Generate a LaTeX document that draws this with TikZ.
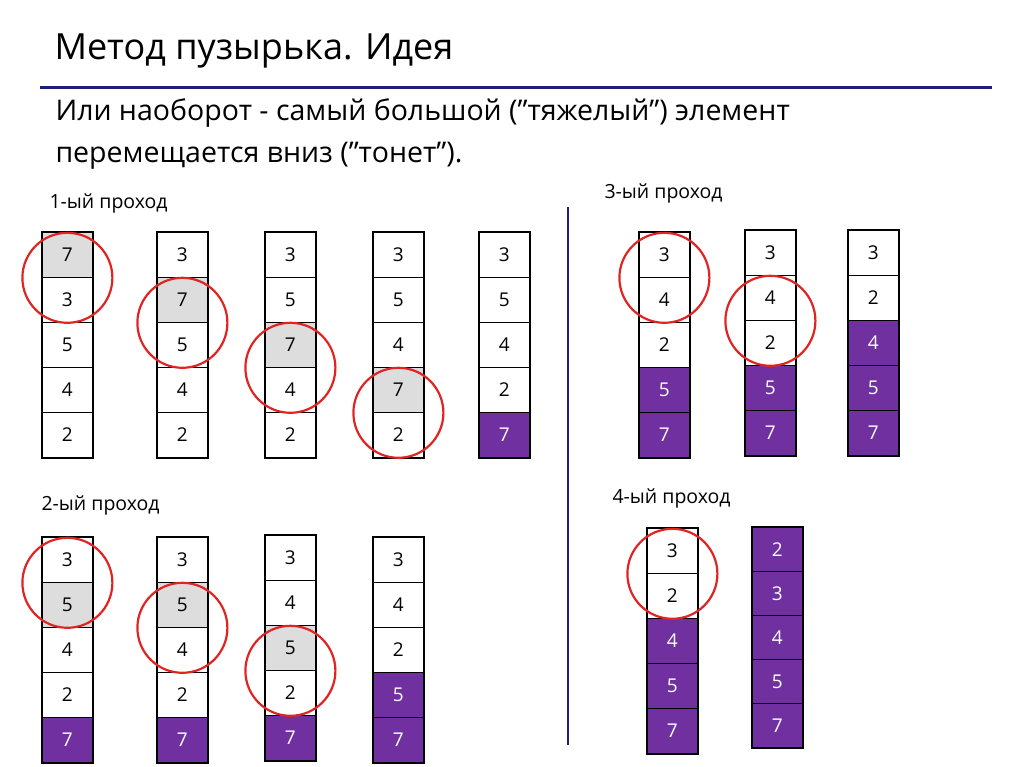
\documentclass[tikz,border=0pt]{standalone}
\usepackage{fontspec}
\setmainfont{Open Sans}
\definecolor{navy}{HTML}{1F1F7A}
\definecolor{bubblepurple}{HTML}{7030A0}
\definecolor{bubblegray}{HTML}{DDDDDD}
\definecolor{ringred}{HTML}{E02424}
\newcommand\qt{\symbol{34}}
\tikzset{
  cell/.style = {draw, line width=0.8pt, minimum width=50pt, minimum height=45pt,
                 inner sep=0pt, font=\fontsize{19}{19}\selectfont, anchor=north west},
  graycell/.style = {cell, fill=bubblegray},
  purplecell/.style = {cell, fill=bubblepurple, text=white},
  ring/.style = {draw=ringred, line width=2.2pt},
  passlabel/.style = {anchor=west, font=\fontsize{19.5}{19.5}\selectfont}
}
% name, x, top y, cell height, values, gray row, first purple row
\newcommand\bubblecol[7]{
  \foreach \v [count=\i] in {#5} {
    \ifnum\i=#6 \def\st{graycell}\else
      \ifnum\i<#7 \def\st{cell}\else \def\st{purplecell}\fi\fi
    \node[\st, minimum height=#4pt] (#1-\i) at (#2, {#3+(\i-1)*#4}) {\v};
  }
  \draw[line width=2.4pt] (#1-1.north west) rectangle (#1-5.south east);
}
\begin{document}
\begin{tikzpicture}[x=1pt, y=-1pt]
  \useasboundingbox (0,0) rectangle (1024,767);
  \node[anchor=west, font=\fontsize{36}{36}\selectfont] (title) at (51,51) {Метод пузырька. Идея};
  \draw[navy, line width=3pt] (40,88) -- (992,88);
  \node[anchor=west, font=\fontsize{28.5}{42}\selectfont, align=left] (idea) at (52,134)
    {Или наоборот - самый большой (\qt тяжелый\qt) элемент\\перемещается вниз (\qt тонет\qt).};
  \draw[navy, line width=2.5pt] (568,207) -- (568,745);

  % 1-ый проход
  \node[passlabel] (l1) at (46,203) {1-ый проход};
  \bubblecol{a}{42}{232}{45}{7,3,5,4,2}{1}{9}
  \bubblecol{b}{157}{232}{45}{3,7,5,4,2}{2}{9}
  \bubblecol{c}{265}{232}{45}{3,5,7,4,2}{3}{9}
  \bubblecol{d}{373}{232}{45}{3,5,4,7,2}{4}{9}
  \bubblecol{e}{479}{232}{45}{3,5,4,2,7}{0}{5}
  \draw[ring] (a-1.south) circle (45);
  \draw[ring] (b-2.south) circle (45);
  \draw[ring] (c-3.south) circle (45);
  \draw[ring] (d-4.south) circle (45);

  % 2-ой проход
  \node[passlabel] (l2) at (38,505) {2-ый проход};
  \bubblecol{f}{42}{537}{45}{3,5,4,2,7}{2}{5}
  \bubblecol{g}{157}{537}{45}{3,5,4,2,7}{2}{5}
  \bubblecol{h}{265}{535}{45}{3,4,5,2,7}{3}{5}
  \bubblecol{i}{373}{537}{45}{3,4,2,5,7}{0}{4}
  \draw[ring] (f-1.south) circle (45);
  \draw[ring] (g-2.south) circle (45);
  \draw[ring] (h-3.south) circle (45);

  % 3-ий проход
  \node[passlabel] (l3) at (601,193) {3-ый проход};
  \bubblecol{j}{639}{232}{45}{3,4,2,5,7}{0}{4}
  \bubblecol{k}{745}{230}{45}{3,4,2,5,7}{0}{4}
  \bubblecol{m}{848}{230}{45}{3,2,4,5,7}{0}{3}
  \draw[ring] (j-1.south) circle (45);
  \draw[ring] (k-2.south) circle (45);

  % 4-ый проход
  \node[passlabel] (l4) at (609,498) {4-ый проход};
  \bubblecol{n}{647}{528}{45}{3,2,4,5,7}{0}{3}
  \bubblecol{o}{752}{527}{44}{2,3,4,5,7}{0}{1}
  \draw[ring] (n-1.south) circle (45);
\end{tikzpicture}
\end{document}
